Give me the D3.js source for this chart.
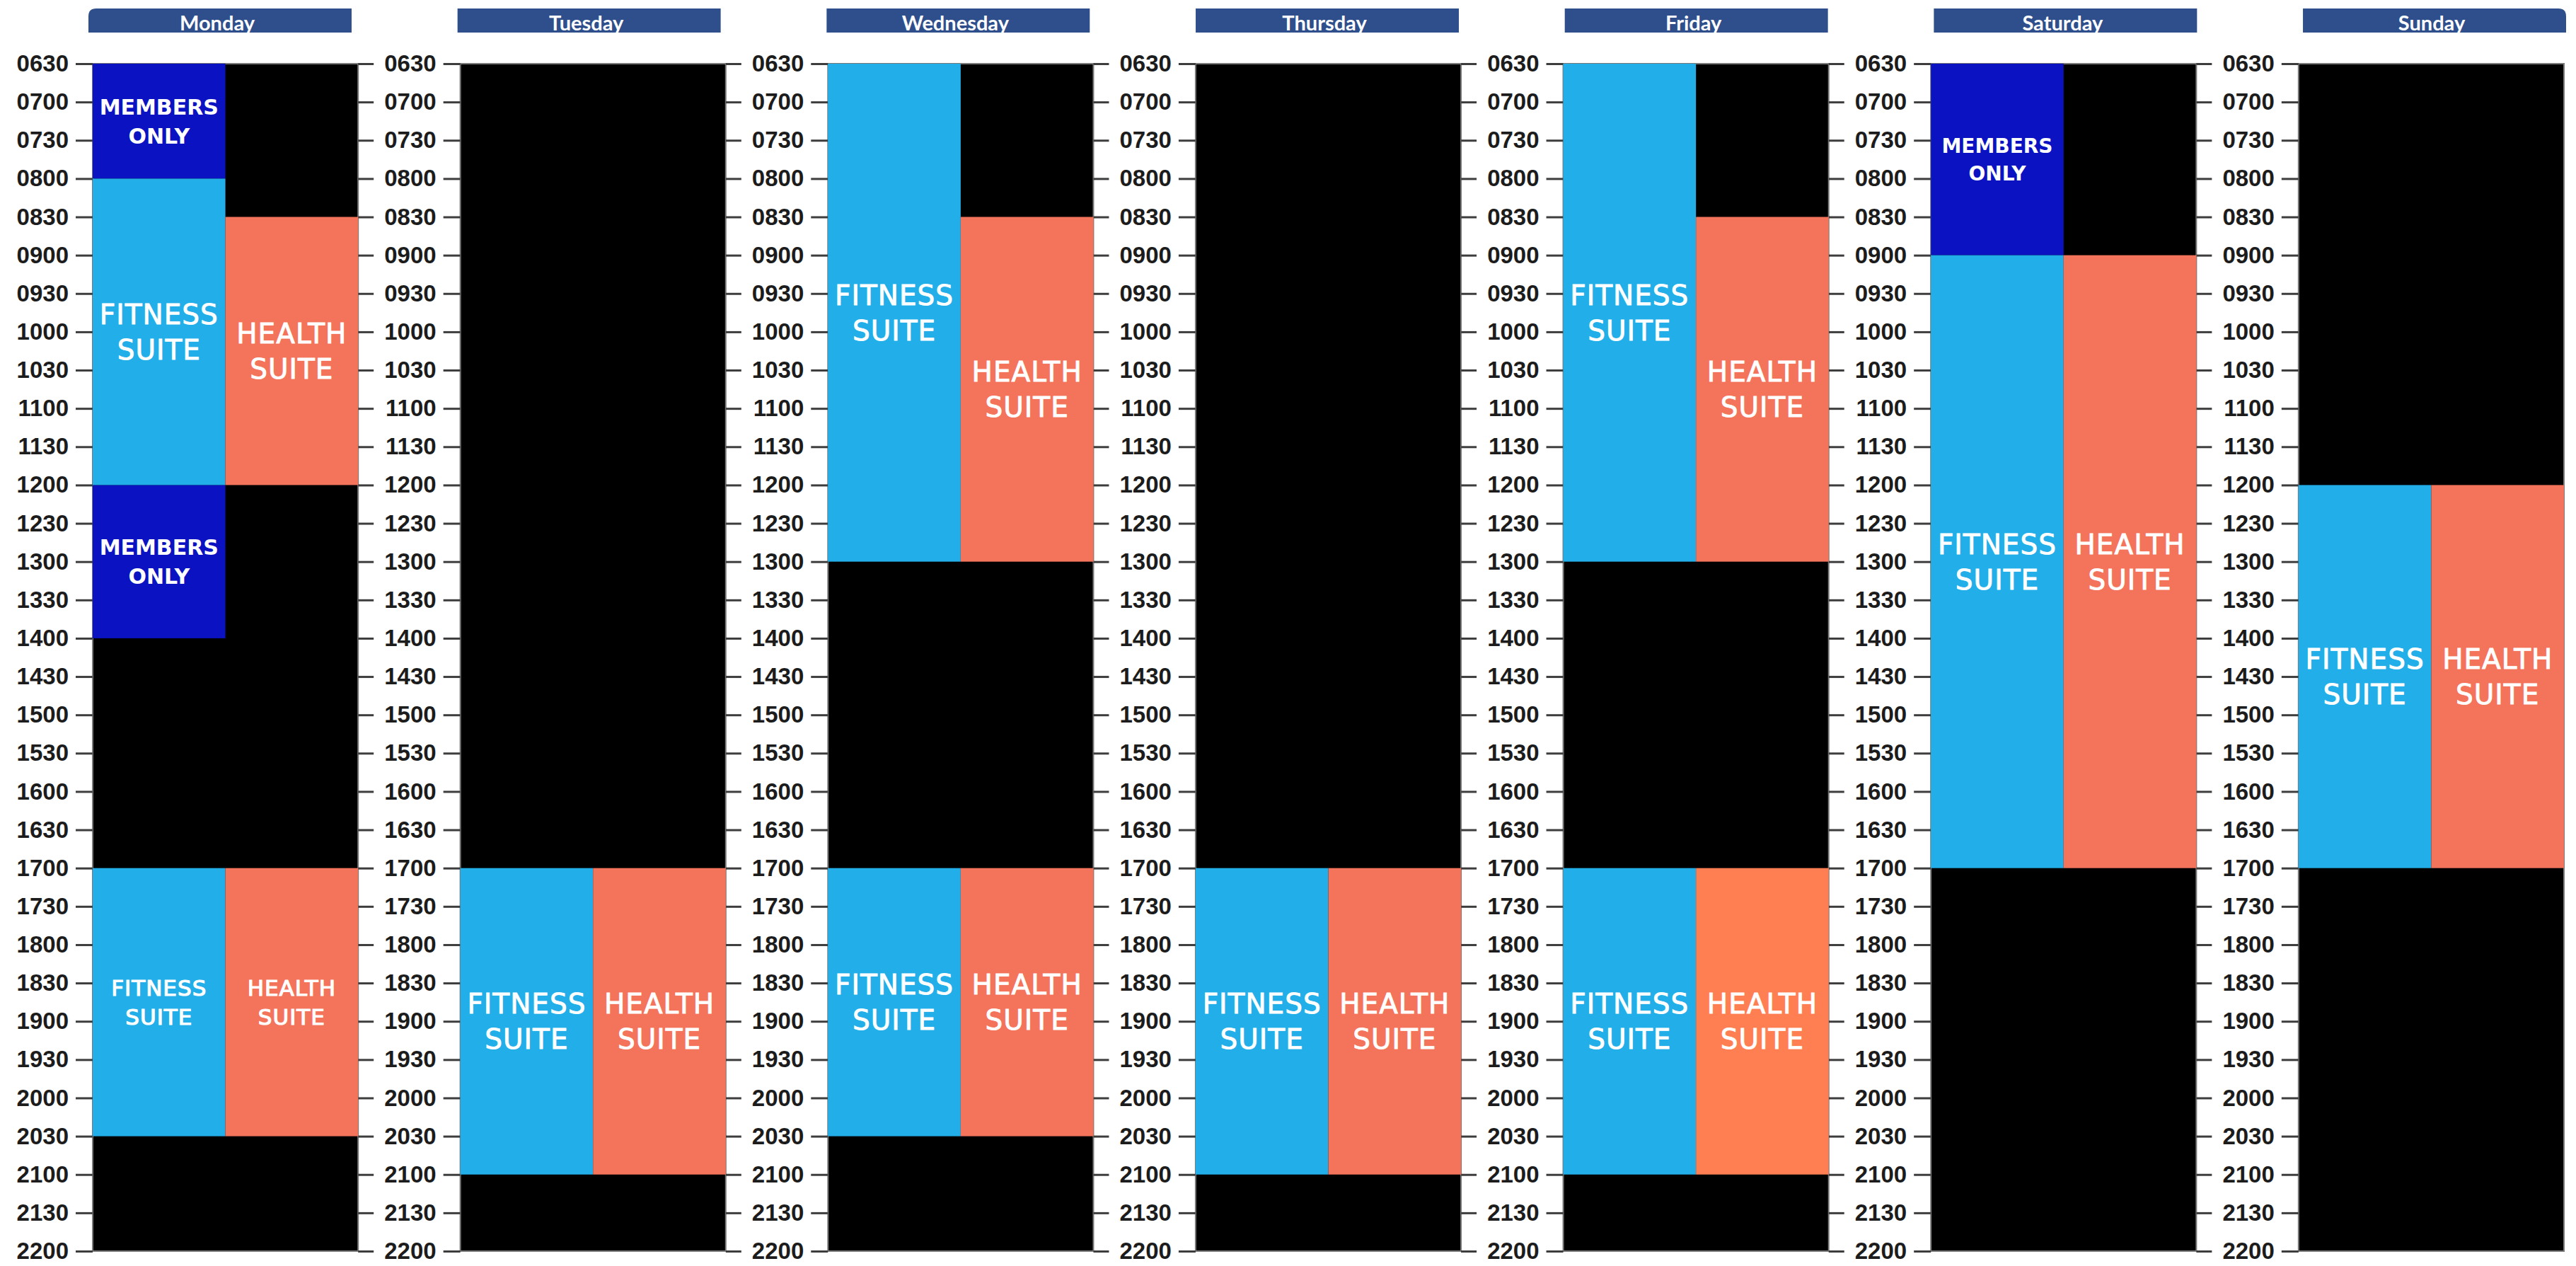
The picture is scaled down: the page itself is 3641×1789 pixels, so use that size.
<!DOCTYPE html>
<html>
<head>
<meta charset="utf-8">
<script src="https://d3js.org/d3.v7.min.js"></script>
<style>
  html, body { margin: 0; padding: 0; background: #ffffff; }
  svg { display: block; }
</style>
</head>
<body>
<div id="chart"></div>
<script>
// ---------------- DATA ----------------
const days = ["Monday", "Tuesday", "Wednesday", "Thursday", "Friday", "Saturday", "Sunday"];

const tickLabels = ["0630","0700","0730","0800","0830","0900","0930","1000","1030","1100",
  "1130","1200","1230","1300","1330","1400","1430","1500","1530","1600","1630","1700",
  "1730","1800","1830","1900","1930","2000","2030","2100","2130","2200"];

// columns inside each day: left = gym floor, right = health suite
const columns = ["left", "right"];

// [day, start, end]
const membersSessions = [
  ["Monday", "0630", "0800"],
  ["Monday", "1200", "1400"],
  ["Saturday", "0630", "0900"]
];
const fitnessSessions = [
  ["Monday", "0800", "1200"],
  ["Monday", "1700", "2030"],
  ["Tuesday", "1700", "2100"],
  ["Wednesday", "0630", "1300"],
  ["Wednesday", "1700", "2030"],
  ["Thursday", "1700", "2100"],
  ["Friday", "0630", "1300"],
  ["Friday", "1700", "2100"],
  ["Saturday", "0900", "1700"],
  ["Sunday", "1200", "1700"]
];
const healthSessions = [
  ["Monday", "0830", "1200"],
  ["Monday", "1700", "2030"],
  ["Tuesday", "1700", "2100"],
  ["Wednesday", "0830", "1300"],
  ["Wednesday", "1700", "2030"],
  ["Thursday", "1700", "2100"],
  ["Friday", "0830", "1300"],
  ["Friday", "1700", "2100"],
  ["Saturday", "0900", "1700"],
  ["Sunday", "1200", "1700"]
];

// ---------------- STYLE ----------------
const W = 3641, H = 1789;
const colors = { members: "#0A12C2", fitness: "#22AEE8", health: "#F4735B", healthAlt: "#FF7E52", closed: "#000000", header: "#2F4F8C" };
const smallLabelKeys = ["Monday-1700"];      // sessions drawn with the compact label
const altColourKeys = ["Friday-1700-health"]; // slightly different coral shade

const toMin = s => +s.slice(0, 2) * 60 + +s.slice(2);

const svg = d3.select("#chart").append("svg").attr("width", W).attr("height", H);

const y = d3.scaleLinear()
  .domain([toMin(tickLabels[0]), toMin(tickLabels[tickLabels.length - 1])])
  .range([90, 1768]);

const x = d3.scaleBand().domain(days).range([131, 3624]).paddingInner(0.278).paddingOuter(0);
const xh = d3.scaleBand().domain(days).range([125, 3627]).paddingInner(0.287).paddingOuter(0);
const xc = d3.scaleBand().domain(columns).range([0, x.bandwidth()]);

// headers
const headerG = svg.append("g");
const defs = svg.append("defs");
days.forEach((d, i) => {
  const hx = xh(d), hw = xh.bandwidth(), hy = 12, hh = 34, r = 11;
  let path;
  if (i === 0) {
    path = `M${hx},${hy + hh} L${hx},${hy + r} Q${hx},${hy} ${hx + r},${hy} L${hx + hw},${hy} L${hx + hw},${hy + hh} Z`;
  } else if (i === days.length - 1) {
    path = `M${hx},${hy + hh} L${hx},${hy} L${hx + hw - r},${hy} Q${hx + hw},${hy} ${hx + hw},${hy + r} L${hx + hw},${hy + hh} Z`;
  } else {
    path = `M${hx},${hy} h${hw} v${hh} h${-hw} Z`;
  }
  defs.append("clipPath").attr("id", "hclip" + i).append("path").attr("d", path);
  headerG.append("path").attr("d", path).attr("fill", colors.header);
  headerG.append("text")
    .attr("clip-path", `url(#hclip${i})`)
    .attr("x", hx + hw / 2 - 4).attr("y", hy + 31)
    .attr("text-anchor", "middle")
    .attr("fill", "#ffffff")
    .style("font-family", "Lato, 'Open Sans', sans-serif")
    .style("font-size", "29px")
    .style("font-weight", "bold")
    .text(d);
});

const tickVals = tickLabels.map(toMin);
const fmt = v => tickLabels[tickVals.indexOf(v)];

days.forEach((d, i) => {
  const g = svg.append("g").attr("transform", `translate(${x(d)},0)`);
  const bw = x.bandwidth();

  // closed background
  g.append("rect")
    .attr("x", 0).attr("y", y.range()[0])
    .attr("width", bw).attr("height", y.range()[1] - y.range()[0])
    .attr("fill", colors.closed)
    .attr("stroke", "#7a7a7a").attr("stroke-width", 2);

  // left axis with labels
  const axL = d3.axisLeft(y).tickValues(tickVals).tickFormat(fmt).tickSize(24).tickPadding(10);
  const gl = g.append("g").call(axL);
  gl.select(".domain").remove();
  gl.selectAll(".tick line").attr("stroke", "#3d3d3d").attr("stroke-width", 3);
  gl.selectAll(".tick text")
    .attr("fill", "#1c1c1c")
    .style("font-family", "'Liberation Sans', Arial, sans-serif")
    .style("font-weight", "bold")
    .style("font-size", "33px");

  // right ticks (no labels) except last panel
  if (i < days.length - 1) {
    const axR = d3.axisRight(y).tickValues(tickVals).tickFormat("").tickSize(22);
    const gr = g.append("g").attr("transform", `translate(${bw},0)`).call(axR);
    gr.select(".domain").remove();
    gr.selectAll(".tick line").attr("stroke", "#3d3d3d").attr("stroke-width", 3);
  }
});

// sessions
const blocks = [];
membersSessions.forEach(s => blocks.push({ day: s[0], start: s[1], end: s[2], col: "left", type: "members", lines: ["MEMBERS", "ONLY"] }));
fitnessSessions.forEach(s => blocks.push({ day: s[0], start: s[1], end: s[2], col: "left", type: "fitness", lines: ["FITNESS", "SUITE"] }));
healthSessions.forEach(s => blocks.push({ day: s[0], start: s[1], end: s[2], col: "right", type: "health", lines: ["HEALTH", "SUITE"] }));

const bg = svg.append("g");
blocks.forEach(b => {
  const x0 = x(b.day) + xc(b.col);
  const y0 = y(toMin(b.start)), y1 = y(toMin(b.end));
  let fill = colors[b.type];
  if (altColourKeys.includes(`${b.day}-${b.start}-${b.type}`)) fill = colors.healthAlt;
  bg.append("rect").attr("x", x0).attr("y", y0).attr("width", xc.bandwidth()).attr("height", y1 - y0).attr("fill", fill);

  let size, weight, spacing, cap, ls = 0, sw = 0;
  if (b.type === "members") {
    size = b.day === "Saturday" ? 28 : 30; weight = "bold"; cap = size * 0.73; spacing = size * 1.37;
  } else if (smallLabelKeys.includes(`${b.day}-${b.start}`)) {
    size = 31; weight = "normal"; cap = 23; spacing = 41; ls = 1; sw = 1.2;
  } else {
    size = 39; weight = "normal"; cap = 28; spacing = 50; ls = 1; sw = 0.9;
  }
  const cx = x0 + xc.bandwidth() / 2, cy = (y0 + y1) / 2;
  b.lines.forEach((t, k) => {
    bg.append("text")
      .attr("x", cx)
      .attr("y", cy + cap / 2 + (k - 0.5) * spacing)
      .attr("text-anchor", "middle")
      .attr("fill", "#ffffff")
      .attr("stroke", sw ? "#ffffff" : "none")
      .attr("stroke-width", sw)
      .style("font-family", "'DejaVu Sans', Verdana, sans-serif")
      .style("font-size", size + "px")
      .style("font-weight", weight)
      .style("letter-spacing", ls + "px")
      .text(t);
  });
});
</script>
</body>
</html>
